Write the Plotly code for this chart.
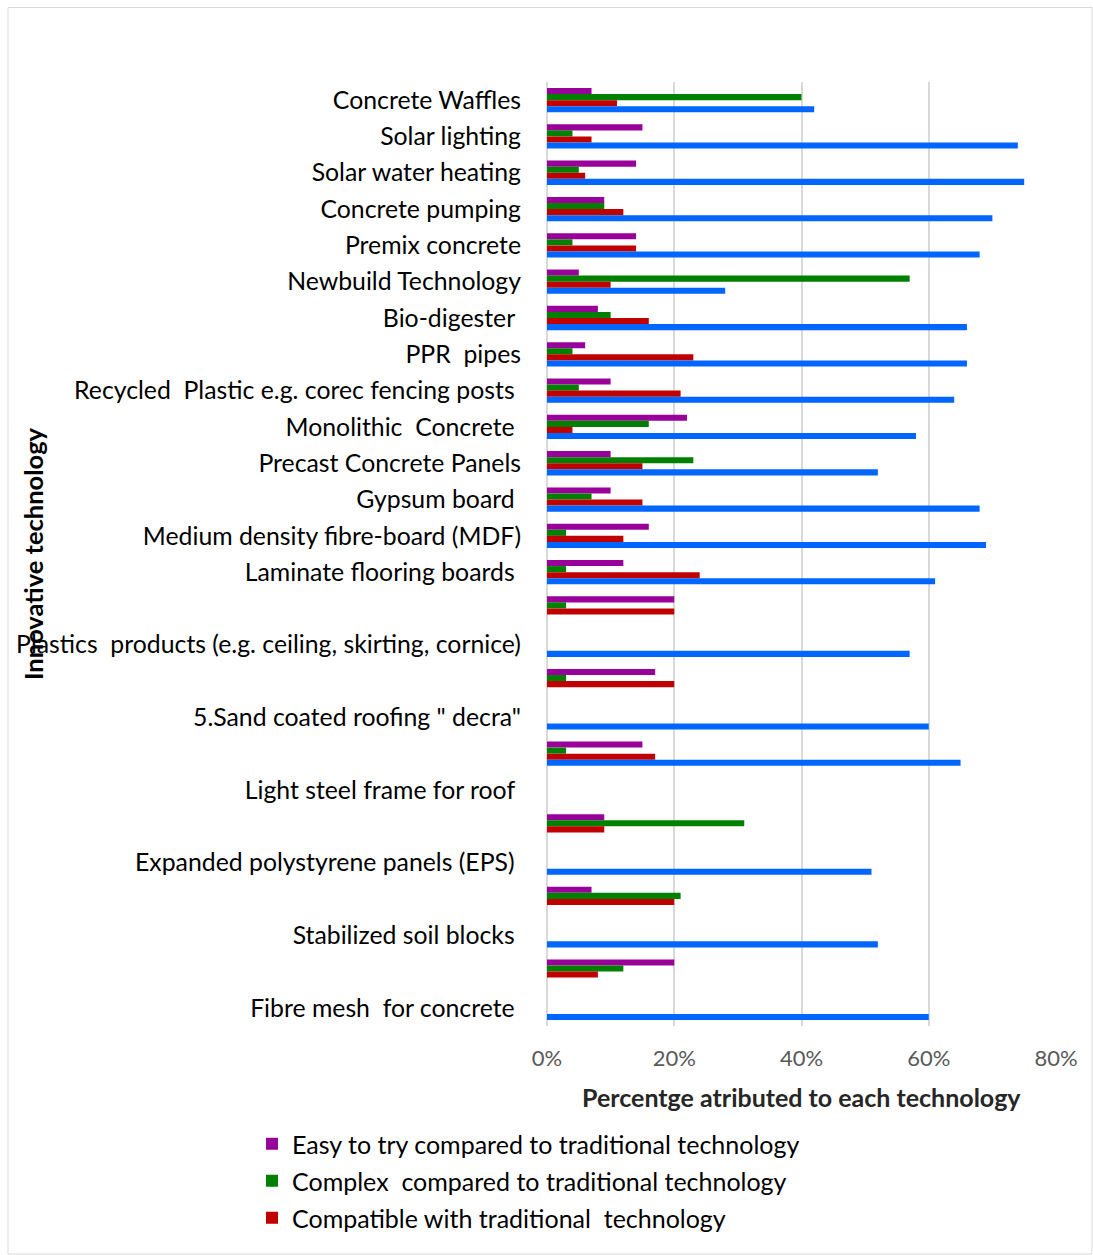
import plotly.graph_objects as go

# Row labels, top to bottom (blank rows carry no label)
labels = [
    "Concrete Waffles",
    "Solar lighting",
    "Solar water heating",
    "Concrete pumping",
    "Premix concrete",
    "Newbuild Technology",
    "Bio-digester\u00a0",
    "PPR\u00a0\u00a0pipes",
    "Recycled\u00a0\u00a0Plastic e.g. corec fencing posts\u00a0",
    "Monolithic\u00a0\u00a0Concrete\u00a0",
    "Precast Concrete Panels",
    "Gypsum board\u00a0",
    "Medium density fibre-board (MDF)",
    "Laminate flooring boards\u00a0",
    "",
    "Plastics\u00a0\u00a0products (e.g. ceiling, skirting, cornice)",
    "",
    "5.Sand coated roofing \"\u00a0decra\"",
    "",
    "Light steel frame for roof\u00a0",
    "",
    "Expanded polystyrene panels (EPS)\u00a0",
    "",
    "Stabilized soil blocks\u00a0",
    "",
    "Fibre mesh\u00a0\u00a0for concrete\u00a0",
]

# Percentages per row (None = no bar)
easy = [7, 15, 14, 9, 14, 5, 8, 6, 10, 22, 10, 10, 16, 12,
        20, None, 17, None, 15, None, 9, None, 7, None, 20, None]
complex_ = [40, 4, 5, 9, 4, 57, 10, 4, 5, 16, 23, 7, 3, 3,
            3, None, 3, None, 3, None, 31, None, 21, None, 12, None]
compatible = [11, 7, 6, 12, 14, 10, 16, 23, 21, 4, 15, 15, 12, 24,
              20, None, 20, None, 17, None, 9, None, 20, None, 8, None]
overall = [42, 74, 75, 70, 68, 28, 66, 66, 64, 58, 52, 68, 69, 61,
           None, 57, None, 60, 65, None, None, 51, None, 52, None, 60]

series_names = [
    "Easy to try compared to traditional technology",
    "Complex\u00a0\u00a0compared to traditional technology",
    "Compatible with traditional\u00a0\u00a0technology",
]
x_ticks = [0, 20, 40, 60, 80]
x_ticktext = [f"{v}%" for v in x_ticks]

# unique category keys so blank rows stay separate slots
keys = [lab if lab.strip() else f"row{i}" for i, lab in enumerate(labels)]

FONT = "Lato"
colors = ["#990099", "#008000", "#C00000", "#0066FF"]

fig = go.Figure()
for vals, name, col in zip([easy, complex_, compatible], series_names, colors[:3]):
    fig.add_trace(go.Bar(
        x=vals, y=keys, orientation="h", name=name,
        marker=dict(color=col, line=dict(width=0)),
        legendgroup=name,
    ))
fig.add_trace(go.Bar(
    x=overall, y=keys, orientation="h", name="",
    marker=dict(color=colors[3], line=dict(width=0)),
    showlegend=False,
))

fig.update_layout(
    width=1093, height=1255,
    margin=dict(l=547, r=37, t=82, b=229, pad=0, autoexpand=False),
    paper_bgcolor="white", plot_bgcolor="white",
    barmode="group", bargap=0.33, bargroupgap=0,
    font=dict(family=FONT, size=25, color="#000000"),
    showlegend=True,
    legend=dict(
        xref="container", yref="container",
        x=252 / 1093, y=1 - 1121 / 1255, xanchor="left", yanchor="top",
        orientation="v", traceorder="grouped", tracegroupgap=1.5,
        font=dict(family=FONT, size=25, color="#000000"),
        bgcolor="rgba(0,0,0,0)",
    ),
    xaxis=dict(
        range=[0, 80], tickmode="array", tickvals=x_ticks, ticktext=x_ticktext,
        showgrid=True, gridcolor="#D9D9D9", gridwidth=1.5,
        zeroline=True, zerolinecolor="#D9D9D9", zerolinewidth=1.5,
        showline=False, ticks="", ticklabelstandoff=17,
        tickfont=dict(family=FONT, size=22, color="#595959"),
        fixedrange=True,
    ),
    yaxis=dict(
        type="category", categoryorder="array", categoryarray=keys,
        autorange="reversed",
        tickmode="array", tickvals=keys, ticktext=labels,
        showgrid=False, zeroline=False, showline=False, ticks="",
        ticklabelstandoff=25,
        tickfont=dict(family=FONT, size=24.8, color="#000000"),
        fixedrange=True,
    ),
    annotations=[
        dict(text="<b>Innovative technology</b>", textangle=-90,
             xref="paper", yref="paper", x=(33 - 547) / 509, y=0.5,
             xanchor="center", yanchor="middle", showarrow=False,
             font=dict(family=FONT, size=25.5, color="#000000")),
        dict(text="<b>Percentge atributed to each technology</b>",
             xref="paper", yref="paper", x=0.5, y=(1026 - 1097) / 944,
             xanchor="center", yanchor="middle", showarrow=False,
             font=dict(family=FONT, size=25, color="#262626")),
    ],
    shapes=[
        dict(type="rect", xref="paper", yref="paper",
             x0=(8 - 547) / 509, x1=(1092 - 547) / 509,
             y0=(1026 - 1254) / 944, y1=(1026 - 7.5) / 944,
             line=dict(color="#D9D9D9", width=1), fillcolor="rgba(0,0,0,0)",
             layer="below"),
    ],
)

fig.write_html("out.html")
